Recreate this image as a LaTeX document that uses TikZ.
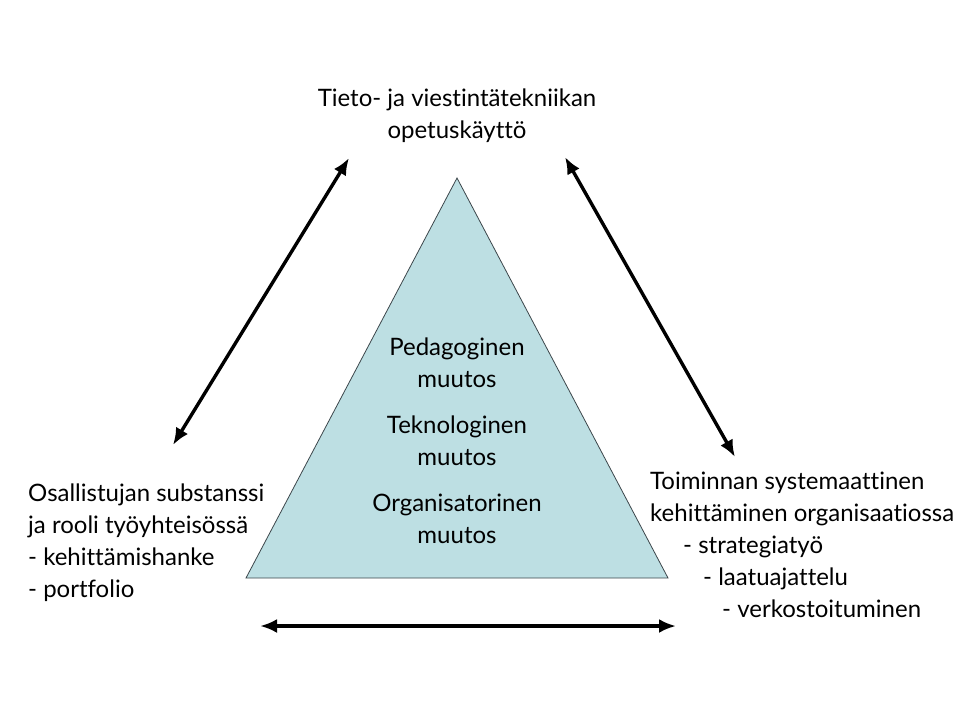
\documentclass[tikz,border=0pt]{standalone}
\usepackage{fontspec}
\setmainfont{Lato}[Ligatures=NoCommon]
\usetikzlibrary{arrows.meta}
\definecolor{trifill}{RGB}{189,223,227}
\definecolor{triline}{RGB}{60,70,75}

\begin{document}
\begin{tikzpicture}[x=1pt,y=-1pt]

\tikzset{label/.style = {inner sep=0pt, font=\fontsize{24}{32}\selectfont}}
\tikzset{edge/.style = {{Latex[length=17pt,width=14pt]}-{Latex[length=17pt,width=14pt]}, line width=3.4pt}}
\useasboundingbox (0,0) rectangle (960,720);

% triangle
\coordinate (top) at (457,178);
\coordinate (bl) at (246,578);
\coordinate (br) at (668,578);
\draw[fill=trifill, draw=triline, line width=0.8pt] (top) -- (bl) -- (br) -- cycle;

% labels
\node[label, align=center] (ict) at (457,116) {Tieto- ja viestintätekniikan\\opetuskäyttö};
\node[label, align=center] (change) at (457,441) {Pedagoginen\\muutos\\[14pt]Teknologinen\\muutos\\[14pt]Organisatorinen\\muutos};
\node[label, align=left, anchor=west] (part) at (28,543) {Osallistujan substanssi\\ja rooli työyhteisössä\\- kehittämishanke\\- portfolio};
\node[label, align=left, anchor=west] (org) at (650,545) {Toiminnan systemaattinen\\kehittäminen organisaatiossa\\\hspace*{33pt}- strategiatyö\\\hspace*{53pt}- laatuajattelu\\\hspace*{72pt}- verkostoituminen};

% arrow ends
\coordinate (a1) at (173,445);
\coordinate (a2) at (349,158);
\coordinate (b1) at (565,157);
\coordinate (b2) at (735,457);
\coordinate (c1) at (260,626);
\coordinate (c2) at (676,626);

%edges
\draw[edge] (a1) to (a2);
\draw[edge] (b1) to (b2);
\draw[edge] (c1) to (c2);
\end{tikzpicture}
\end{document}
